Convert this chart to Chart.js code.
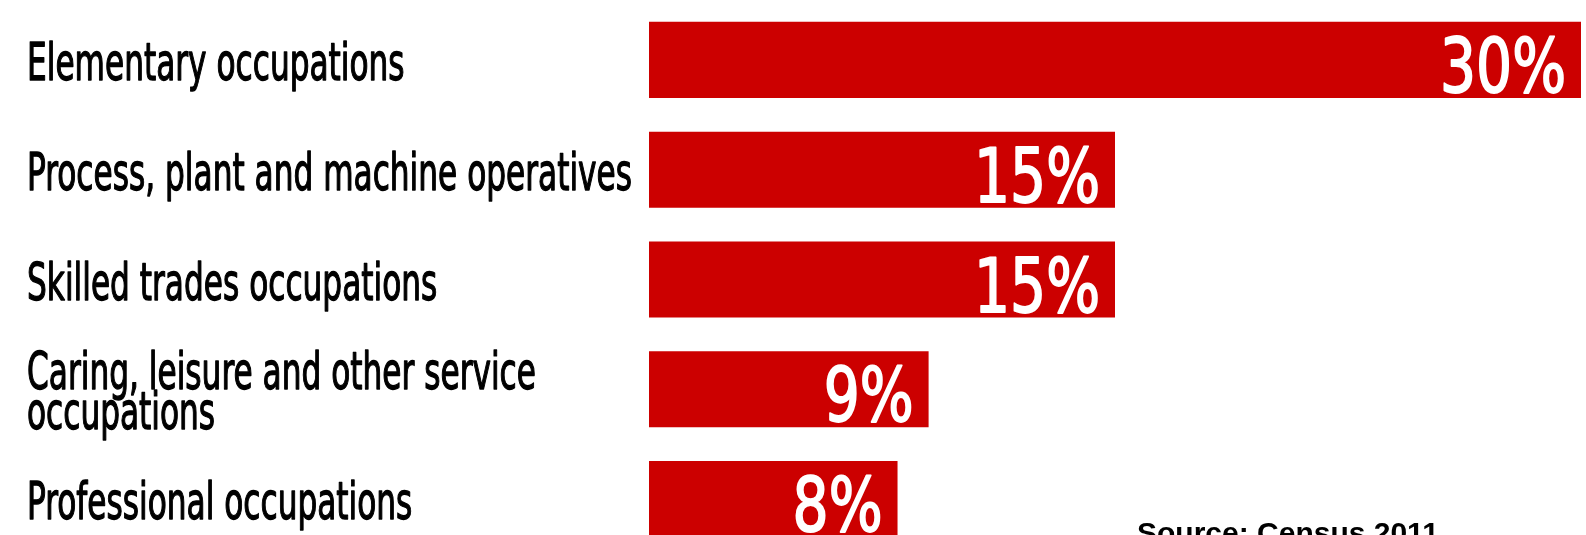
<!DOCTYPE html>
<html>
<head>
<meta charset="utf-8">
<script src="https://cdn.jsdelivr.net/npm/chart.js@4"></script>
<style>
  html, body { margin: 0; padding: 0; background: #fff; overflow: hidden; }
  #wrap { position: relative; width: 1586px; height: 565px; }
</style>
</head>
<body>
<div id="wrap"><canvas id="occChart"></canvas></div>
<script>
const categories = [
    'Elementary occupations',
    'Process, plant and machine operatives',
    'Skilled trades occupations',
    ['Caring, leisure and other service', 'occupations'],
    'Professional occupations'
];
const shares = [30, 15, 15, 9, 8];
const sourceNote = 'Source: Census 2011';

const LABEL_FONT = '"DejaVu Sans Condensed", "DejaVu Sans", sans-serif';

// narrow text helper: no condensed face is around, so squeeze horizontally
// and add a thin stroke to make up the weight
function drawNarrow(ctx, text, x, y, sx, align, weight) {
    ctx.save();
    ctx.translate(x, y);
    ctx.scale(sx, 1);
    ctx.textAlign = align;
    ctx.fillText(text, 0, 0);
    if (weight) {
        ctx.lineWidth = weight;
        ctx.strokeStyle = ctx.fillStyle;
        ctx.lineJoin = 'round';
        ctx.strokeText(text, 0, 0);
    }
    ctx.restore();
}

const labelsPlugin = {
    id: 'occLabels',
    afterDatasetsDraw(chart) {
        const ctx = chart.ctx;
        const yScale = chart.scales.y;
        const meta = chart.getDatasetMeta(0);
        ctx.save();
        ctx.textBaseline = 'alphabetic';

        // category names on the left
        ctx.fillStyle = '#000';
        ctx.font = '51px ' + LABEL_FONT;
        chart.data.labels.forEach((lab, i) => {
            const lines = Array.isArray(lab) ? lab : [lab];
            const cy = yScale.getPixelForValue(i);
            const lh = 40;
            let base = cy + 20 - (lines.length - 1) * lh / 2;
            lines.forEach(line => {
                drawNarrow(ctx, line, 27, base, 0.68, 'left', 1.3);
                base += lh;
            });
        });

        // values inside the bars
        ctx.fillStyle = '#fff';
        ctx.font = '75px ' + LABEL_FONT;
        meta.data.forEach((bar, i) => {
            drawNarrow(ctx, shares[i] + '%', bar.x - 15, bar.y + 32, 0.84, 'right', 1.8);
        });

        // source note
        ctx.fillStyle = '#000';
        ctx.font = 'bold 30px "Liberation Sans", Arial, sans-serif';
        ctx.textAlign = 'left';
        ctx.fillText(sourceNote, 1137, 543);
        ctx.restore();
    }
};

new Chart(document.getElementById('occChart'), {
    type: 'bar',
    data: {
        labels: categories,
        datasets: [{
            data: shares,
            backgroundColor: '#cc0000',
            borderWidth: 0,
            barPercentage: 0.693,
            categoryPercentage: 1.0
        }]
    },
    options: {
        indexAxis: 'y',
        responsive: true,
        maintainAspectRatio: false,
        animation: false,
        layout: {
            padding: { left: 649, right: 5, top: 5, bottom: 11 }
        },
        plugins: {
            legend: { display: false },
            tooltip: { enabled: false }
        },
        scales: {
            x: { display: false, min: 0, max: 30 },
            y: { display: false }
        }
    },
    plugins: [labelsPlugin]
});
</script>
</body>
</html>
